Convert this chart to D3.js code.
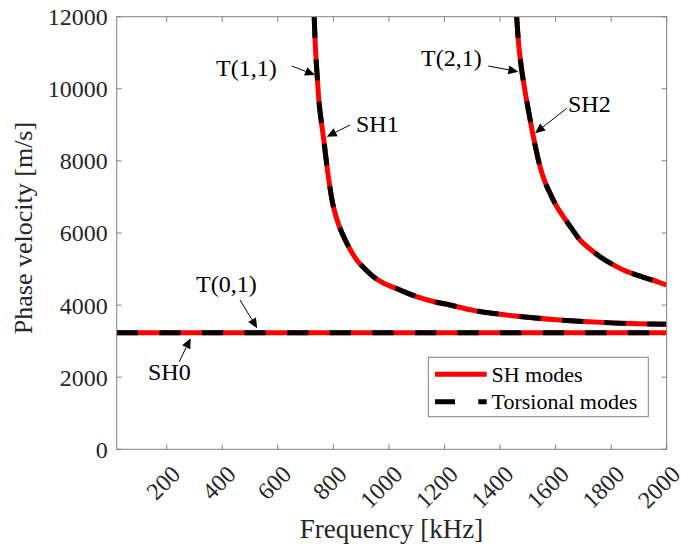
<!DOCTYPE html>
<html>
<head>
<meta charset="utf-8">
<script src="https://cdn.jsdelivr.net/npm/d3@7"></script>
<style>
  html, body { margin: 0; padding: 0; background: #fff; }
  svg { display: block; }
  svg text { font-family: "Liberation Serif", "Times New Roman", "DejaVu Serif", serif; }
</style>
</head>
<body>
<svg id="chart" width="681" height="550"></svg>
<script>
// ---------------- data ----------------
const xDomain = [20, 2000];
const yDomain = [0, 12000];
const xTickValues = [200, 400, 600, 800, 1000, 1200, 1400, 1600, 1800, 2000];
const yTickValues = [0, 2000, 4000, 6000, 8000, 10000, 12000];

// SH0 / T(0,1) (non-dispersive)
const freqMode0 = [20, 2000];
const velMode0  = [3234, 3234];

// SH1 / T(1,1)
const freqMode1 = [731, 736, 742, 750, 764, 782, 800, 820, 840, 860, 884, 910, 944, 980, 1040, 1100, 1160, 1220, 1300, 1400, 1500, 1600, 1700, 1800, 1900, 2000];
const velMode1  = [12000, 11050, 10336, 9500, 8672, 7562, 6730, 6210, 5850, 5550, 5251, 5030, 4788, 4615, 4419, 4235, 4100, 4003, 3860, 3745, 3660, 3592, 3545, 3507, 3482, 3467];

// SH2 / T(2,1)
const freqMode2 = [1460, 1468, 1478, 1490, 1502, 1520, 1544, 1560, 1580, 1600, 1628, 1660, 1688, 1720, 1760, 1800, 1844, 1890, 1928, 1970, 2000];
const velMode2  = [12000, 11150, 10522, 9930, 9412, 8672, 7840, 7450, 7101, 6790, 6452, 6100, 5806, 5580, 5343, 5150, 4974, 4840, 4744, 4640, 4558];

const seriesNames = ["SH modes", "Torsional modes"];
const xLabel = "Frequency [kHz]";
const yLabel = "Phase velocity [m/s]";

// annotations: label, arrow tip in data coords
const annLabels = ["T(1,1)", "SH1", "T(2,1)", "SH2", "T(0,1)", "SH0"];
const annTipFreq = [734, 776, 1466, 1526, 526, 286];
const annTipVel  = [10383, 8672, 10475, 8766, 3357, 3079];

// ---------------- layout ----------------
const FONT = '"Liberation Serif", "Times New Roman", "DejaVu Serif", serif';
const svg = d3.select("#chart");
const L = 116.7, R = 666.7, T = 16.7, B = 449.3;
const x = d3.scaleLinear().domain(xDomain).range([L, R]);
const y = d3.scaleLinear().domain(yDomain).range([B, T]);
const axisColor = "#808080";
const textColor = "#262626";

svg.append("defs").append("clipPath").attr("id", "clip")
  .append("rect").attr("x", L).attr("y", T).attr("width", R - L).attr("height", B - T);

// ticks (inside, all four sides)
const tickLen = 5;
const ax = svg.append("g");
xTickValues.forEach(v => {
  ax.append("line").attr("x1", x(v)).attr("x2", x(v)).attr("y1", B).attr("y2", B - tickLen)
    .attr("stroke", axisColor).attr("stroke-width", 1);
  ax.append("line").attr("x1", x(v)).attr("x2", x(v)).attr("y1", T).attr("y2", T + tickLen)
    .attr("stroke", axisColor).attr("stroke-width", 1);
});
yTickValues.forEach(v => {
  ax.append("line").attr("x1", L).attr("x2", L + tickLen).attr("y1", y(v)).attr("y2", y(v))
    .attr("stroke", axisColor).attr("stroke-width", 1);
  ax.append("line").attr("x1", R).attr("x2", R - tickLen).attr("y1", y(v)).attr("y2", y(v))
    .attr("stroke", axisColor).attr("stroke-width", 1);
});

// tick labels
yTickValues.forEach(v => {
  svg.append("text").attr("x", L - 9).attr("y", y(v)).attr("dy", "0.35em")
    .attr("font-family", FONT)
    .attr("text-anchor", "end").attr("font-size", 24).attr("fill", textColor).text(v);
});
xTickValues.forEach(v => {
  svg.append("text")
    .attr("transform", `translate(${x(v) + 9},${B + 20.5}) rotate(-45)`)
    .attr("font-family", FONT)
    .attr("dy", "0.35em").attr("text-anchor", "end")
    .attr("font-size", 24).attr("fill", textColor).text(v);
});

// axis labels
svg.append("text").attr("x", 391.5).attr("y", 538).attr("text-anchor", "middle")
  .attr("font-family", FONT)
  .attr("font-size", 27).attr("fill", textColor).text(xLabel);
svg.append("text").attr("transform", `translate(32,228) rotate(-90)`).attr("text-anchor", "middle")
  .attr("font-family", FONT)
  .attr("font-size", 26).attr("fill", textColor).text(yLabel);

// lines
const line = d3.line().x(d => x(d[0])).y(d => y(d[1])).curve(d3.curveCatmullRom.alpha(0.5));
const modes = [
  d3.zip(freqMode0, velMode0),
  d3.zip(freqMode1, velMode1),
  d3.zip(freqMode2, velMode2)
];
const plot = svg.append("g").attr("clip-path", "url(#clip)");
modes.forEach(m => {
  plot.append("path").attr("d", line(m)).attr("fill", "none")
    .attr("stroke", "#ff0000").attr("stroke-width", 5);
});
modes.forEach(m => {
  plot.append("path").attr("d", line(m)).attr("fill", "none")
    .attr("stroke", "#000000").attr("stroke-width", 5)
    .attr("stroke-dasharray", "21.3,21.3");
});

// box
svg.append("rect").attr("x", L).attr("y", T).attr("width", R - L).attr("height", B - T)
  .attr("fill", "none").attr("stroke", axisColor).attr("stroke-width", 1);

// annotations
const annTextPos = [[216, 76], [356, 131.7], [421, 65.5], [568, 111.7], [196, 292.3], [148, 380]];
const annStart = [[291.7, 66], [350, 125], [488.3, 66], [566.7, 108.3], [240, 300], [179.3, 361.7]];
annLabels.forEach((lab, i) => {
  svg.append("text").attr("x", annTextPos[i][0]).attr("y", annTextPos[i][1])
    .attr("font-family", FONT)
    .attr("font-size", 24).attr("fill", "#000").text(lab);
  const tx = x(annTipFreq[i]), ty = y(annTipVel[i]);
  const sx = annStart[i][0], sy = annStart[i][1];
  const ang = Math.atan2(ty - sy, tx - sx);
  const hl = 10, hw = 4.5;
  const bx = tx - hl * Math.cos(ang), by = ty - hl * Math.sin(ang);
  svg.append("line").attr("x1", sx).attr("y1", sy).attr("x2", bx).attr("y2", by)
    .attr("stroke", "#000").attr("stroke-width", 1);
  const px = -Math.sin(ang), py = Math.cos(ang);
  svg.append("polygon")
    .attr("points", `${tx},${ty} ${bx + hw * px},${by + hw * py} ${bx - hw * px},${by - hw * py}`)
    .attr("fill", "#000");
});

// legend
const lg = svg.append("g");
lg.append("rect").attr("x", 428.3).attr("y", 357.3).attr("width", 220).attr("height", 59.4)
  .attr("fill", "#fff").attr("stroke", axisColor).attr("stroke-width", 1);
lg.append("line").attr("x1", 435).attr("x2", 486.7).attr("y1", 374.3).attr("y2", 374.3)
  .attr("stroke", "#ff0000").attr("stroke-width", 5);
lg.append("line").attr("x1", 435).attr("x2", 486.7).attr("y1", 401.7).attr("y2", 401.7)
  .attr("stroke", "#000").attr("stroke-width", 5).attr("stroke-dasharray", "20,23.3");
lg.append("text").attr("x", 491.5).attr("y", 381.5).attr("font-family", FONT).attr("font-size", 22).attr("fill", "#000").text(seriesNames[0]);
lg.append("text").attr("x", 491.5).attr("y", 408.5).attr("font-family", FONT).attr("font-size", 22).attr("fill", "#000").text(seriesNames[1]);
</script>
</body>
</html>
